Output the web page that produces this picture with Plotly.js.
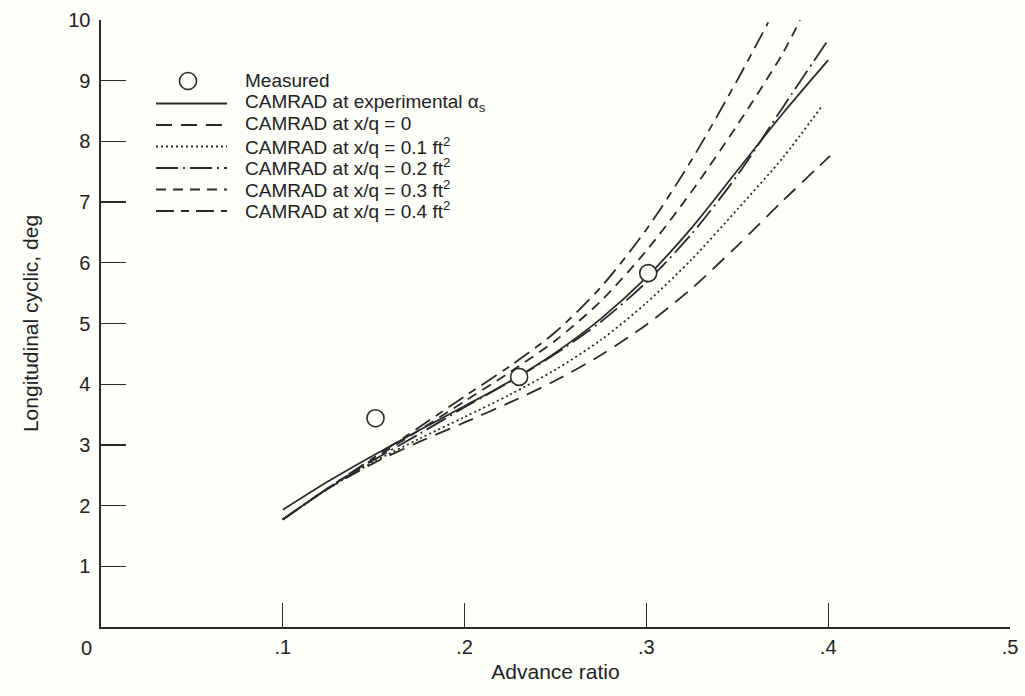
<!DOCTYPE html>
<html>
<head>
<meta charset="utf-8">
<script src="https://cdn.plot.ly/plotly-3.0.1.min.js"></script>
<style>html,body{margin:0;padding:0;background:#fefefa;}#chart{width:1025px;height:696px;}</style>
</head>
<body>
<div id="chart"></div>
<script>
// Measured data
const measuredAdvance = [0.151, 0.23, 0.301];
const measuredCyclic  = [3.44, 4.12, 5.83];

// CAMRAD curves (advance ratio, longitudinal cyclic in deg)
const xExp = [0.10, 0.125, 0.15, 0.175, 0.20, 0.225, 0.25, 0.275, 0.30, 0.325, 0.35, 0.375, 0.40];
const yExp = [1.93, 2.40, 2.83, 3.24, 3.64, 4.05, 4.52, 5.08, 5.76, 6.58, 7.52, 8.46, 9.34];

const xQ0 = [0.10, 0.125, 0.15, 0.175, 0.20, 0.225, 0.25, 0.275, 0.30, 0.325, 0.35, 0.375, 0.401];
const yQ0 = [1.77, 2.28, 2.70, 3.05, 3.37, 3.70, 4.06, 4.48, 4.98, 5.58, 6.28, 7.02, 7.76];

const xQ01 = [0.10, 0.125, 0.15, 0.175, 0.20, 0.225, 0.25, 0.275, 0.30, 0.325, 0.35, 0.375, 0.396];
const yQ01 = [1.77, 2.28, 2.72, 3.10, 3.46, 3.83, 4.24, 4.73, 5.34, 6.06, 6.88, 7.73, 8.56];

const xQ02 = [0.10, 0.125, 0.15, 0.175, 0.20, 0.225, 0.25, 0.275, 0.30, 0.325, 0.35, 0.375, 0.399];
const yQ02 = [1.77, 2.29, 2.75, 3.18, 3.62, 4.04, 4.50, 5.03, 5.68, 6.48, 7.44, 8.56, 9.63];

const xQ03 = [0.10, 0.125, 0.15, 0.175, 0.20, 0.225, 0.25, 0.275, 0.30, 0.325, 0.35, 0.375, 0.3845];
const yQ03 = [1.77, 2.29, 2.77, 3.24, 3.72, 4.20, 4.72, 5.37, 6.20, 7.18, 8.27, 9.45, 10.0];

const xQ04 = [0.10, 0.125, 0.15, 0.175, 0.20, 0.225, 0.25, 0.275, 0.30, 0.325, 0.35, 0.367];
const yQ04 = [1.77, 2.29, 2.79, 3.29, 3.80, 4.30, 4.86, 5.60, 6.55, 7.70, 9.01, 9.96];

const xTickVals = [0.1, 0.2, 0.3, 0.4, 0.5];
const xTickText = ['.1', '.2', '.3', '.4', '.5'];
const yTickVals = [1, 2, 3, 4, 5, 6, 7, 8, 9, 10];
const yTickText = ['1', '2', '3', '4', '5', '6', '7', '8', '9', '10'];

const names = [
  'Measured',
  'CAMRAD at experimental α<sub>s</sub>',
  'CAMRAD at x/q = 0',
  'CAMRAD at x/q = 0.1 ft<sup>2</sup>',
  'CAMRAD at x/q = 0.2 ft<sup>2</sup>',
  'CAMRAD at x/q = 0.3 ft<sup>2</sup>',
  'CAMRAD at x/q = 0.4 ft<sup>2</sup>'
];
const dashes = ['solid', '16px,9px', '2px,3px', '22px,5px,2px,5px', '10px,7px', '18px,7px,8px,7px'];

const ink = '#2b2b2b';
const bg = '#fefefa';
const fam = '"Liberation Sans", Arial, Helvetica, sans-serif';
const tickFont = {family: fam, size: 20, color: '#222'};
const titleFont = {family: fam, size: 21, color: '#222'};
const legFont = {family: fam, size: 19, color: '#222'};

function curve(x, y, name, dash) {
  return {x: x, y: y, name: name, type: 'scatter', mode: 'lines', showlegend: false,
    line: {color: ink, width: 1.8, dash: dash, shape: 'spline', smoothing: 0.8},
    hoverinfo: 'skip'};
}

const traces = [
  curve(xExp, yExp, names[1], dashes[0]),
  curve(xQ0, yQ0, names[2], dashes[1]),
  curve(xQ01, yQ01, names[3], dashes[2]),
  curve(xQ02, yQ02, names[4], dashes[3]),
  curve(xQ03, yQ03, names[5], dashes[4]),
  curve(xQ04, yQ04, names[6], dashes[5]),
  {x: measuredAdvance, y: measuredCyclic, name: names[0], type: 'scatter', mode: 'markers', showlegend: false,
    marker: {symbol: 'circle', size: 17, color: bg, line: {color: ink, width: 1.6}},
    hoverinfo: 'skip'}
];

// Legend drawn in paper space (plot area: 101..1010 px wide, 20..627 px tall)
const L = 101, R = 1010, T = 20, B = 627;
const px = v => (v - L) / (R - L);
const py = v => (B - v) / (B - T);
const rowY = [81, 102.5, 124, 145.5, 167, 188.5, 210];
const shapes = [];
const annotations = [];
shapes.push({type: 'circle', xref: 'paper', yref: 'paper', xsizemode: 'pixel', ysizemode: 'pixel',
  xanchor: px(188), yanchor: py(rowY[0]), x0: -8.5, x1: 8.5, y0: -8.5, y1: 8.5,
  line: {color: ink, width: 1.6}, fillcolor: bg});
for (let i = 1; i < names.length; i++) {
  shapes.push({type: 'line', xref: 'paper', yref: 'paper', x0: px(156), x1: px(227),
    y0: py(rowY[i] + 1), y1: py(rowY[i] + 1), line: {color: ink, width: 1.8, dash: dashes[i - 1]}});
}
for (let i = 0; i < names.length; i++) {
  annotations.push({text: names[i], xref: 'paper', yref: 'paper', x: px(243), y: py(rowY[i]),
    xanchor: 'left', yanchor: 'middle', showarrow: false, font: legFont});
}
annotations.push({text: '0', xref: 'paper', yref: 'paper', x: px(86), y: py(648), showarrow: false,
  xanchor: 'center', yanchor: 'middle', font: tickFont});

const layout = {
  width: 1025, height: 696,
  paper_bgcolor: bg, plot_bgcolor: bg,
  font: tickFont,
  margin: {l: L, r: 1025 - R, t: T, b: 696 - B},
  showlegend: false,
  xaxis: {
    range: [0, 0.5], showgrid: false, zeroline: false,
    showline: true, linecolor: ink, linewidth: 1.6,
    ticks: 'inside', ticklen: 24, tickwidth: 1.3, tickcolor: ink,
    tickvals: xTickVals, ticktext: xTickText, ticklabelstandoff: 1, tickfont: tickFont,
    title: {text: 'Advance ratio', font: titleFont, standoff: 8}
  },
  yaxis: {
    range: [0, 10], showgrid: false, zeroline: false,
    showline: true, linecolor: ink, linewidth: 1.6,
    ticks: 'inside', ticklen: 25, tickwidth: 1.3, tickcolor: ink,
    tickvals: yTickVals, ticktext: yTickText, ticklabelstandoff: 5, tickfont: tickFont,
    title: {text: 'Longitudinal cyclic, deg', font: titleFont, standoff: 24}
  },
  shapes: shapes,
  annotations: annotations
};

Plotly.newPlot('chart', traces, layout, {displayModeBar: false, staticPlot: true});
</script>
</body>
</html>
